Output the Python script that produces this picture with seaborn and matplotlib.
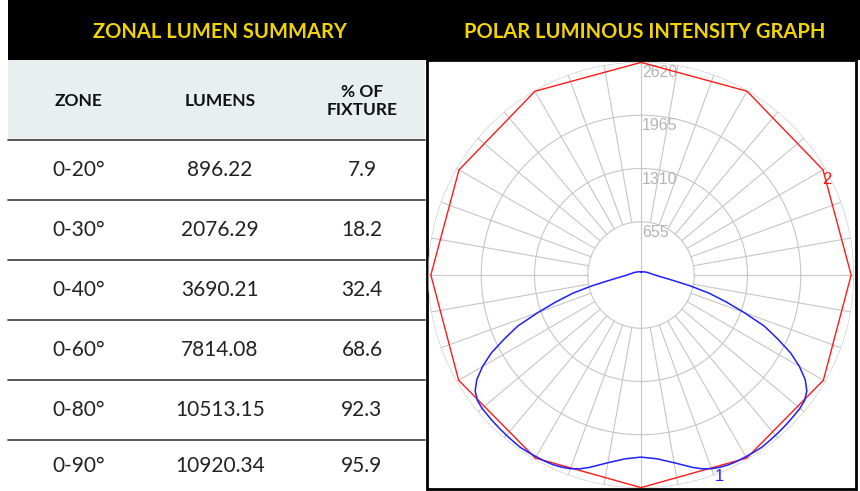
import numpy as np
import pandas as pd
import matplotlib
matplotlib.use('Agg')
import matplotlib.pyplot as plt
from matplotlib.patches import Rectangle
import seaborn as sns

# Table data
zones = ['0-20°', '0-30°', '0-40°', '0-60°', '0-80°', '0-90°']
lumens = ['896.22', '2076.29', '3690.21', '7814.08', '10513.15', '10920.34']
pct_fixture = ['7.9', '18.2', '32.4', '68.6', '92.3', '95.9']
col_headers = ['ZONE', 'LUMENS', '% OF\nFIXTURE']

# Polar graph rings (candela)
ring_values = [655, 1310, 1965, 2620]

# Curve 1 (blue): angle from nadir (deg) and candela, one side, mirrored
blue_deg = [0, 5, 10, 15, 17.5, 20, 22.5, 25, 27.5, 30, 32.5, 35, 37.5, 40,
            42.5, 45, 47.5, 50, 52.5, 55, 57.5, 60, 62.5, 65, 67.5, 70, 72.5,
            75, 77.5, 80, 82.5, 85, 87.5, 90, 95, 100, 110, 120, 135, 150,
            165, 175, 180]
blue_cd = [2240, 2270, 2345, 2450, 2500, 2535, 2558, 2572, 2578, 2580, 2584,
           2588, 2580, 2574, 2568, 2562, 2556, 2552, 2536, 2490, 2395, 2250,
           2075, 1850, 1640, 1350, 1095, 870, 625, 420, 310, 240, 200, 170,
           140, 115, 90, 70, 55, 45, 40, 38, 36]

# Curve 2 (red)
red_deg = [0, 30, 60, 90, 120, 150, 180]
red_cd = [2615, 2600, 2590, 2585, 2585, 2610, 2615]


def mirror(deg, cd):
    deg = np.asarray(deg, dtype=float)
    cd = np.asarray(cd, dtype=float)
    full_deg = np.concatenate([-deg[::-1], deg[1:]])
    full_cd = np.concatenate([cd[::-1], cd[1:]])
    return pd.DataFrame({'theta': np.radians(full_deg), 'cd': full_cd})


sns.set_style('white')
plt.rcParams['font.family'] = ['Lato', 'DejaVu Sans']

fig = plt.figure(figsize=(8.6, 4.91), dpi=100)

# background axes in pixel coordinates for the table and frames
ax_bg = fig.add_axes([0, 0, 1, 1])
ax_bg.set_xlim(0, 860)
ax_bg.set_ylim(491, 0)
ax_bg.axis('off')

yellow = '#f2d400'
ax_bg.add_patch(Rectangle((8, 0), 852, 60, color='black', lw=0))
ax_bg.text(220, 32, 'ZONAL LUMEN SUMMARY', color=yellow, fontsize=14.5,
           fontweight='bold', ha='center', va='center')
ax_bg.text(645, 32, 'POLAR LUMINOUS INTENSITY GRAPH', color=yellow,
           fontsize=14.5, fontweight='bold', ha='center', va='center')

# table header
ax_bg.add_patch(Rectangle((8, 60), 417, 79, color='#e9eff0', lw=0))
col_x = [79, 220, 362]
for x, h in zip(col_x, col_headers):
    ax_bg.text(x, 101, h, fontsize=12.5, fontweight='bold', color='#111111',
               ha='center', va='center', linespacing=1.15)

# table rows
row_h = 60
for i, (z, l, p) in enumerate(zip(zones, lumens, pct_fixture)):
    top = 140 + row_h * i
    ax_bg.plot([8, 425], [top - 0.5, top - 0.5], color='#3a3a3a', lw=1.2)
    yc = min(top + row_h / 2, top + (491 - top) / 2)
    for x, s in zip(col_x, (z, l, p)):
        ax_bg.text(x, yc, s, fontsize=15, color='#222222', ha='center',
                   va='center')

# frame around polar graph
ax_bg.add_patch(Rectangle((427, 60), 429, 429, fill=False,
                          edgecolor='black', lw=2))

# polar graph
cx, cy, rad = 641, 275, 213
ax = fig.add_axes([(cx - rad) / 860, (491 - cy - rad) / 491,
                   2 * rad / 860, 2 * rad / 491], projection='polar')
ax.set_facecolor('none')
ax.set_theta_zero_location('S')
ax.grid(False)

grid_c = '#c6c6c6'
circ = np.linspace(0, 2 * np.pi, 721)
for rv in ring_values:
    ax.plot(circ, np.full_like(circ, rv), color=grid_c, lw=0.8, zorder=1)
for d in range(0, 360, 10):
    t = np.radians(d)
    r0 = 0 if d in (0, 180) else ring_values[0]
    ax.plot([t, t], [r0, ring_values[-1]], color=grid_c, lw=0.8, zorder=1)

red_df = mirror(red_deg, red_cd)
blue_df = mirror(blue_deg, blue_cd)
sns.lineplot(data=red_df, x='theta', y='cd', sort=False, estimator=None,
             color='#ff1a1a', lw=1.0, ax=ax, zorder=3)
sns.lineplot(data=blue_df, x='theta', y='cd', sort=False, estimator=None,
             color='#1f1fff', lw=1.1, ax=ax, zorder=4)

for rv in ring_values:
    ax.annotate(str(rv), xy=(np.pi, rv), xytext=(1, -3),
                textcoords='offset pixels', ha='left', va='top',
                fontsize=11.5, color='#b4b4b4', family='Liberation Sans',
                zorder=2)

ax.text(np.radians(117.3), 2571, '2', color='#ff1a1a', fontsize=12,
        family='Liberation Sans', ha='center', va='center', zorder=5)
ax.text(np.radians(21.2), 2652, '1', color='#1f1fff', fontsize=12,
        family='Liberation Sans', ha='center', va='center', zorder=5)

ax.set_rlim(0, ring_values[-1])
ax.set_xticks([])
ax.set_yticks([])
ax.set_xlabel('')
ax.set_ylabel('')
ax.spines['polar'].set_visible(False)

fig.savefig('out.png', dpi=100)
